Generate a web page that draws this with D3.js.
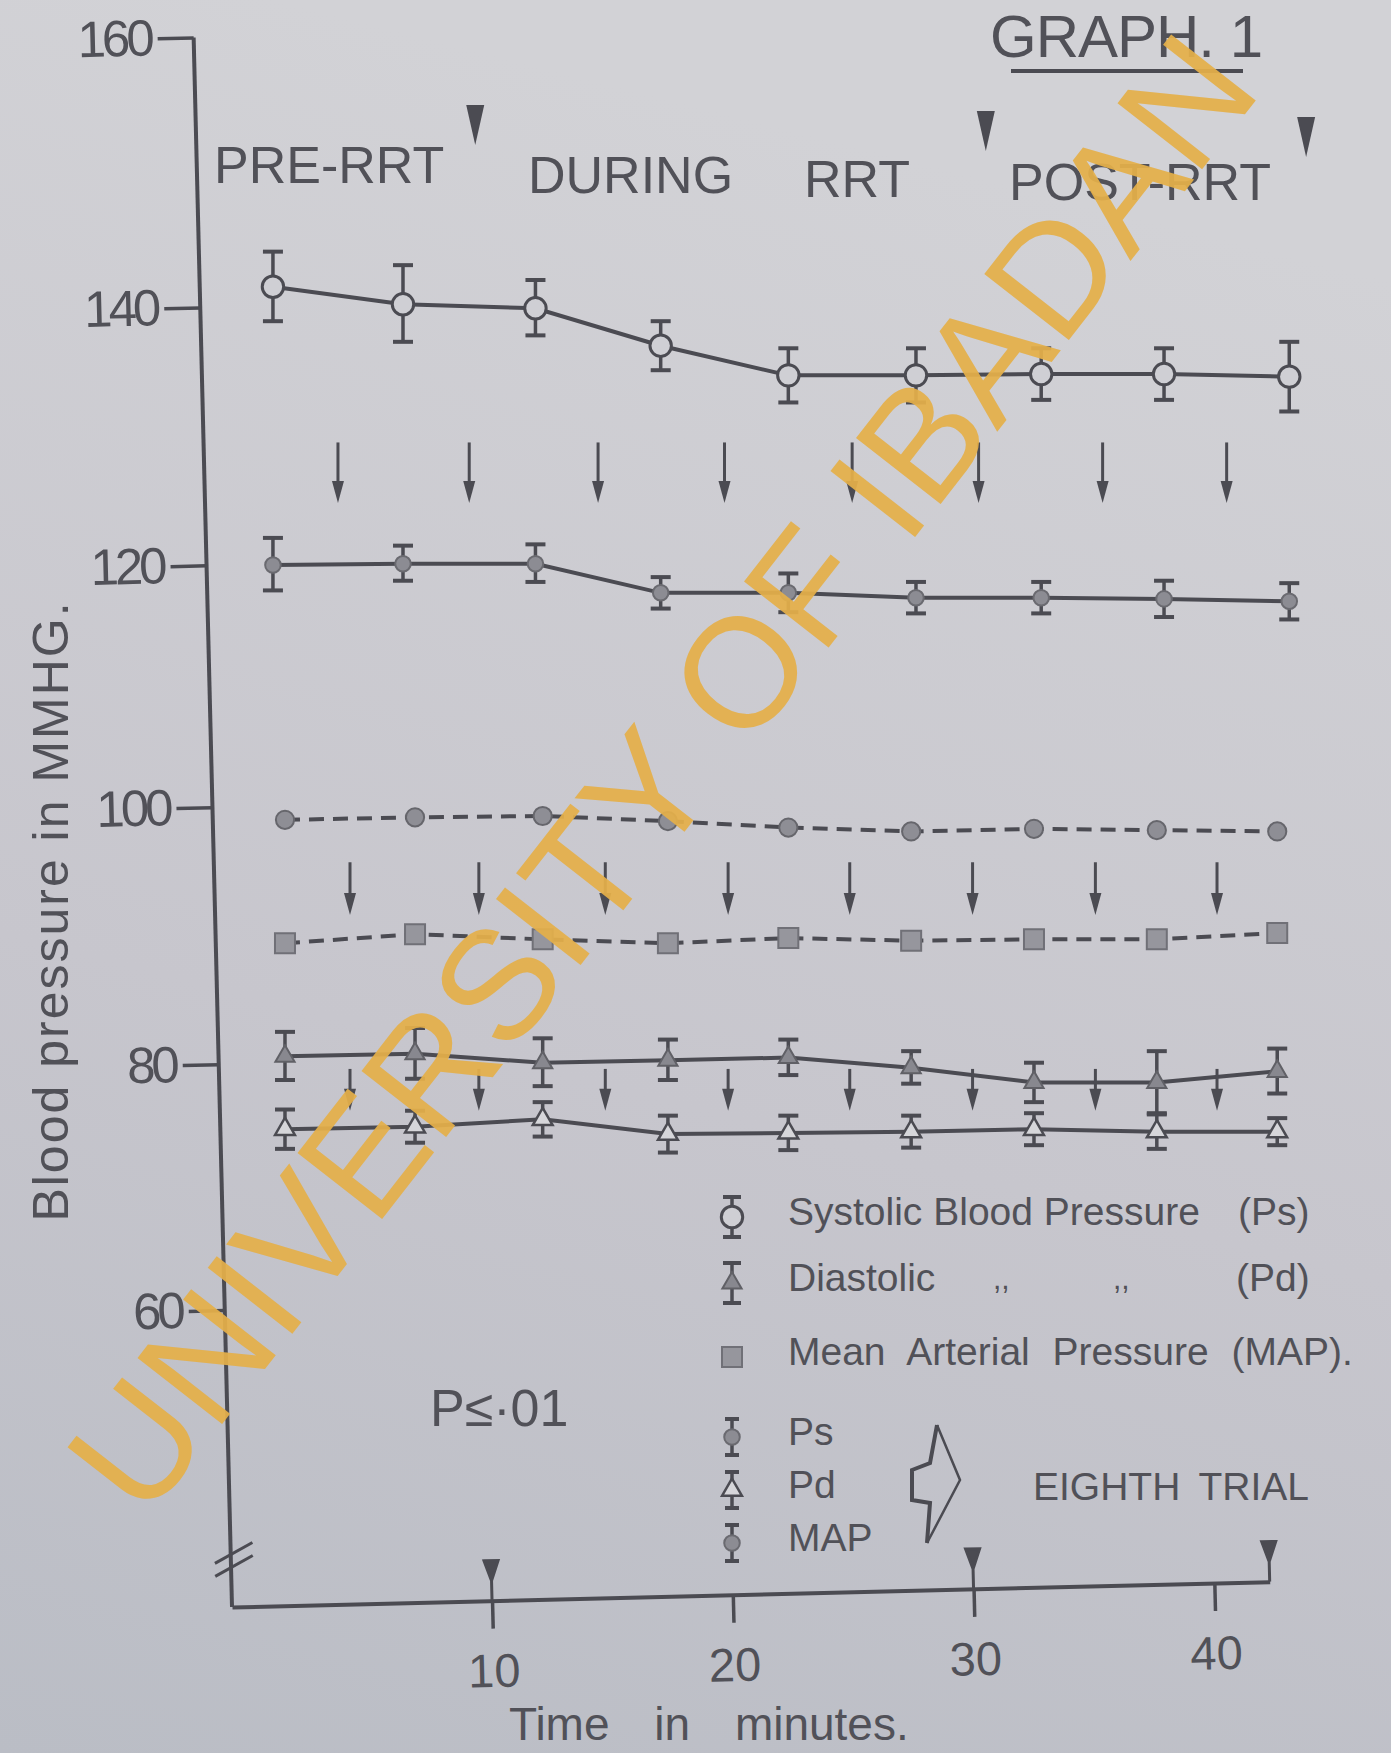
<!DOCTYPE html>
<html>
<head>
<meta charset="utf-8">
<script src="https://cdn.jsdelivr.net/npm/d3@7"></script>
<style>
  body { margin: 0; background: #c8c8ce; }
  svg { display: block; }
  text { font-family: "Liberation Sans", Arial, sans-serif; fill: #515158; }
</style>
</head>
<body>
<svg id="chart" width="1391" height="1753"></svg>
<script>
// readings taken off the sheet (minutes, mmHg)
const timesUpper = [0.9, 6.3, 11.8, 17.0, 22.3, 27.6, 32.8, 37.9, 43.1];
const timesLower = [1.4, 6.8, 12.1, 17.3, 22.3, 27.4, 32.5, 37.6, 42.6];

const psMean   = [141.5, 140.2, 139.9, 137.0, 134.7, 134.7, 134.8, 134.8, 134.6];
const psSd     = [2.6, 2.9, 2.1, 1.9, 2.1, 2.1, 2.0, 2.0, 2.7];
const ps8Mean  = [120.0, 120.1, 120.1, 117.7, 117.7, 117.3, 117.3, 117.2, 117.0];
const ps8Sd    = [2.1, 1.4, 1.5, 1.3, 1.6, 1.3, 1.3, 1.5, 1.5];
const map8Mean = [99.0, 99.2, 99.3, 98.9, 98.4, 98.1, 98.3, 98.2, 98.1];
const mapMean  = [89.4, 90.1, 89.7, 89.4, 89.8, 89.6, 89.7, 89.7, 90.2];
const pdMean   = [80.6, 80.8, 80.1, 80.3, 80.5, 79.7, 78.5, 78.5, 79.4];
const pdSd     = [1.9, 2.0, 1.9, 1.6, 1.4, 1.3, 1.6, 2.5, 1.8];
const pd8Mean  = [74.7, 74.9, 75.5, 74.3, 74.4, 74.5, 74.7, 74.5, 74.5];
const pd8Sd    = [1.6, 1.3, 1.4, 1.5, 1.4, 1.3, 1.3, 1.4, 1.1];

const yTicks = [60, 80, 100, 120, 140, 160];
const xTicks = [10, 20, 30, 40];
const phaseLabels = ["PRE-RRT", "DURING", "RRT", "POST-RRT"];
const phaseEnds = [9.3, 30.5, 43.8];   // the ▼ marks over the phase names
const axisMarks = [10, 30, 42.3];      // the ▼ marks on the time axis
const legendLabels = ["Systolic Blood Pressure", "Diastolic", "Mean Arterial Pressure (MAP).", "Ps", "Pd", "MAP"];

const ink = "#4b4b52";
const svg = d3.select("#chart");

// paper
const grad = svg.append("defs").append("linearGradient").attr("id", "paper")
  .attr("x1", 0.2).attr("y1", 0).attr("x2", 0).attr("y2", 1);
grad.append("stop").attr("offset", "0%").attr("stop-color", "#d2d2d6");
grad.append("stop").attr("offset", "55%").attr("stop-color", "#c7c6cd");
grad.append("stop").attr("offset", "100%").attr("stop-color", "#babdc5");
svg.append("rect").attr("width", 1391).attr("height", 1753).attr("fill", "url(#paper)");

// hand ruled scale: the 20 mmHg steps are not quite even
const x = d3.scaleLinear().domain([-0.8, 42.3]).range([232, 1270]);
const y = d3.scaleLinear().domain(yTicks).range([1310, 1064, 807, 565, 307, 37]);
const corner = [232, 1607];

// axes, a little askew like the photographed sheet
const frame = svg.append("g").attr("transform", `rotate(-1.4, ${corner[0]}, ${corner[1]})`);

const yAxis = frame.append("g").attr("transform", `translate(${corner[0]},0)`)
  .call(d3.axisLeft(y).tickValues(yTicks).tickSize(36).tickPadding(7));
yAxis.select(".domain").remove();
yAxis.selectAll(".tick line").attr("stroke", ink).attr("stroke-width", 3.5);
yAxis.selectAll(".tick text")
  .attr("font-family", '"Liberation Sans", Arial, sans-serif')
  .attr("font-size", 51).attr("letter-spacing", -4).attr("fill", "#515158");

frame.append("line")
  .attr("x1", corner[0]).attr("x2", corner[0])
  .attr("y1", y(160)).attr("y2", corner[1])
  .attr("stroke", ink).attr("stroke-width", 4);
// axis break
[0, 13].forEach(off => {
  frame.append("line")
    .attr("x1", corner[0] - 16).attr("y1", corner[1] - 44 + off)
    .attr("x2", corner[0] + 22).attr("y2", corner[1] - 64 + off)
    .attr("stroke", ink).attr("stroke-width", 3);
});

const xAxis = frame.append("g").attr("transform", `translate(0,${corner[1]})`)
  .call(d3.axisBottom(x).tickValues(xTicks).tickSizeInner(28).tickSizeOuter(0).tickPadding(25));
xAxis.select(".domain").attr("stroke", ink).attr("stroke-width", 4);
xAxis.selectAll(".tick line").attr("stroke", ink).attr("stroke-width", 3.5);
xAxis.selectAll(".tick text").attr("font-size", 47).attr("fill", "#515158");

frame.selectAll(".amark").data(axisMarks).enter().append("path")
  .attr("class", "amark")
  .attr("transform", d => `translate(${x(d)},${corner[1]})`)
  .attr("d", "M-7,-40 L7,-40 L0,-20 Z M0,-20 L0,0")
  .attr("fill", ink).attr("stroke", ink).attr("stroke-width", 3);

// axis titles
svg.append("text")
  .attr("transform", "translate(68,911) rotate(-90)")
  .attr("text-anchor", "middle")
  .attr("font-size", 50).attr("letter-spacing", 2)
  .text("Blood pressure in MMHG.");

svg.append("text")
  .attr("x", 509).attr("y", 1740)
  .attr("font-size", 46).attr("word-spacing", 32)
  .text("Time in minutes.");

// title and phases
svg.append("text").attr("x", 990).attr("y", 57)
  .attr("font-size", 60).attr("letter-spacing", -1)
  .text("GRAPH. 1");
svg.append("line").attr("x1", 1011).attr("x2", 1243).attr("y1", 71).attr("y2", 71)
  .attr("stroke", ink).attr("stroke-width", 4);

const phasePos = [[214, 183], [528, 193], [804, 197], [1009, 200]];
svg.selectAll(".phase").data(phaseLabels).enter().append("text")
  .attr("class", "phase")
  .attr("x", (d, i) => phasePos[i][0]).attr("y", (d, i) => phasePos[i][1])
  .attr("font-size", 52)
  .text(d => d);

svg.selectAll(".pmark").data(phaseEnds).enter().append("path")
  .attr("class", "pmark")
  .attr("transform", (d, i) => `translate(${x(d)},${105 + i * 6})`)
  .attr("d", "M-9,0 L9,0 L0,40 Z")
  .attr("fill", ink);

// series
const plot = svg.append("g");
const line = d3.line().x(d => x(d.t)).y(d => y(d.v));

function rows(times, mean, sd) {
  return times.map((t, i) => ({ t: t, v: mean[i], sd: sd ? sd[i] : 0 }));
}

function errorBar(g, cx, yTop, yBot, cap) {
  g.append("line").attr("x1", cx).attr("x2", cx).attr("y1", yTop).attr("y2", yBot)
    .attr("stroke", ink).attr("stroke-width", 3.5);
  [yTop, yBot].forEach(yy => {
    g.append("line").attr("x1", cx - cap / 2).attr("x2", cx + cap / 2).attr("y1", yy).attr("y2", yy)
      .attr("stroke", ink).attr("stroke-width", 4);
  });
}

const markers = {
  open:   { type: d3.symbolCircle, size: 360, fill: "#cfcfd4", stroke: ink, sw: 3 },
  dot:    { type: d3.symbolCircle, size: 190, fill: "#8c8c93", stroke: "#6a6a70", sw: 2 },
  dot2:   { type: d3.symbolCircle, size: 260, fill: "#8e8e95", stroke: "#66666c", sw: 2 },
  square: { type: d3.symbolSquare, size: 400, fill: "#96969d", stroke: "#707077", sw: 2 },
  tri:    { type: d3.symbolTriangle, size: 160, fill: "#88888f", stroke: "#606066", sw: 2 },
  otri:   { type: d3.symbolTriangle, size: 170, fill: "#d6d6da", stroke: ink, sw: 2.5 }
};

function marker(g, m, cx, cy) {
  g.append("path")
    .attr("transform", `translate(${cx},${cy})`)
    .attr("d", d3.symbol().type(m.type).size(m.size)())
    .attr("fill", m.fill).attr("stroke", m.stroke).attr("stroke-width", m.sw);
}

function drawSeries(data, m, dashed) {
  const g = plot.append("g");
  g.append("path").datum(data)
    .attr("d", line)
    .attr("fill", "none").attr("stroke", ink).attr("stroke-width", 4)
    .attr("stroke-dasharray", dashed ? "15,9" : null);
  data.forEach(d => {
    if (d.sd) errorBar(g, x(d.t), y(d.v + d.sd), y(d.v - d.sd), 20);
    marker(g, m, x(d.t), y(d.v));
  });
}

drawSeries(rows(timesUpper, psMean, psSd), markers.open, false);
drawSeries(rows(timesUpper, ps8Mean, ps8Sd), markers.dot, false);
drawSeries(rows(timesLower, map8Mean), markers.dot2, true);
drawSeries(rows(timesLower, mapMean), markers.square, true);
drawSeries(rows(timesLower, pdMean, pdSd), markers.tri, false);
drawSeries(rows(timesLower, pd8Mean, pd8Sd), markers.otri, false);

// fall arrows between each pair of readings
function drawArrows(times, vTop, vBot) {
  const mids = d3.pairs(times, (a, b) => (a + b) / 2);
  const g = plot.append("g");
  mids.forEach(t => {
    const cx = x(t), y0 = y(vTop), y1 = y(vBot);
    g.append("line").attr("x1", cx).attr("x2", cx).attr("y1", y0).attr("y2", y1 - 18)
      .attr("stroke", ink).attr("stroke-width", 3);
    g.append("path").attr("d", `M${cx - 6},${y1 - 22} L${cx + 6},${y1 - 22} L${cx},${y1} Z`)
      .attr("fill", ink);
  });
}
drawArrows(timesUpper, 129.5, 124.8);
drawArrows(timesLower, 95.7, 91.6);
drawArrows(timesLower, 79.6, 76.2);

// legend
const lg = svg.append("g");
const lx = 732, tx = 788;
const ly = [1217, 1283, 1357, 1437, 1490, 1543];
errorBar(lg, lx, ly[0] - 20, ly[0] + 20, 18); marker(lg, markers.open, lx, ly[0]);
errorBar(lg, lx, ly[1] - 20, ly[1] + 20, 18); marker(lg, markers.tri, lx, ly[1]);
marker(lg, markers.square, lx, ly[2]);
errorBar(lg, lx, ly[3] - 18, ly[3] + 18, 14); marker(lg, markers.dot, lx, ly[3]);
errorBar(lg, lx, ly[4] - 18, ly[4] + 18, 14); marker(lg, markers.otri, lx, ly[4]);
errorBar(lg, lx, ly[5] - 18, ly[5] + 18, 14); marker(lg, markers.dot, lx, ly[5]);

lg.selectAll(".ltext").data(legendLabels).enter().append("text")
  .attr("class", "ltext")
  .attr("x", tx).attr("y", (d, i) => ly[i] + 8)
  .attr("font-size", 39)
  .attr("word-spacing", (d, i) => i === 2 ? 12 : 0)
  .text(d => d);
lg.append("text").attr("x", 1238).attr("y", ly[0] + 8).attr("font-size", 39).text("(Ps)");
lg.append("text").attr("x", 1236).attr("y", ly[1] + 8).attr("font-size", 39).text("(Pd)");
[993, 1113].forEach(dx => lg.append("text").attr("x", dx).attr("y", ly[1] + 6).attr("font-size", 30).text(",,"));

// brace grouping the eighth trial symbols
lg.append("path").attr("d", "M937,1425 L930,1463 L912,1470 L912,1500 L930,1503 L927,1543")
  .attr("fill", "none").attr("stroke", ink).attr("stroke-width", 4);
lg.append("path").attr("d", "M937,1425 L960,1480 L927,1543")
  .attr("fill", "none").attr("stroke", ink).attr("stroke-width", 2.5);
lg.append("text").attr("x", 1033).attr("y", 1500).attr("font-size", 39).attr("word-spacing", 8)
  .text("EIGHTH TRIAL");

svg.append("text").attr("x", 430).attr("y", 1426).attr("font-size", 52).text("P≤·01");

// library watermark across the sheet, kept just inside the top edge
svg.append("text")
  .attr("transform", "translate(660,772) rotate(-52)")
  .attr("text-anchor", "middle").attr("dy", "0.36em")
  .attr("font-size", 156)
  .style("fill", "#e5b04a").attr("opacity", 0.93)
  .text("UNIVERSITY OF IBADAN");
</script>
</body>
</html>
